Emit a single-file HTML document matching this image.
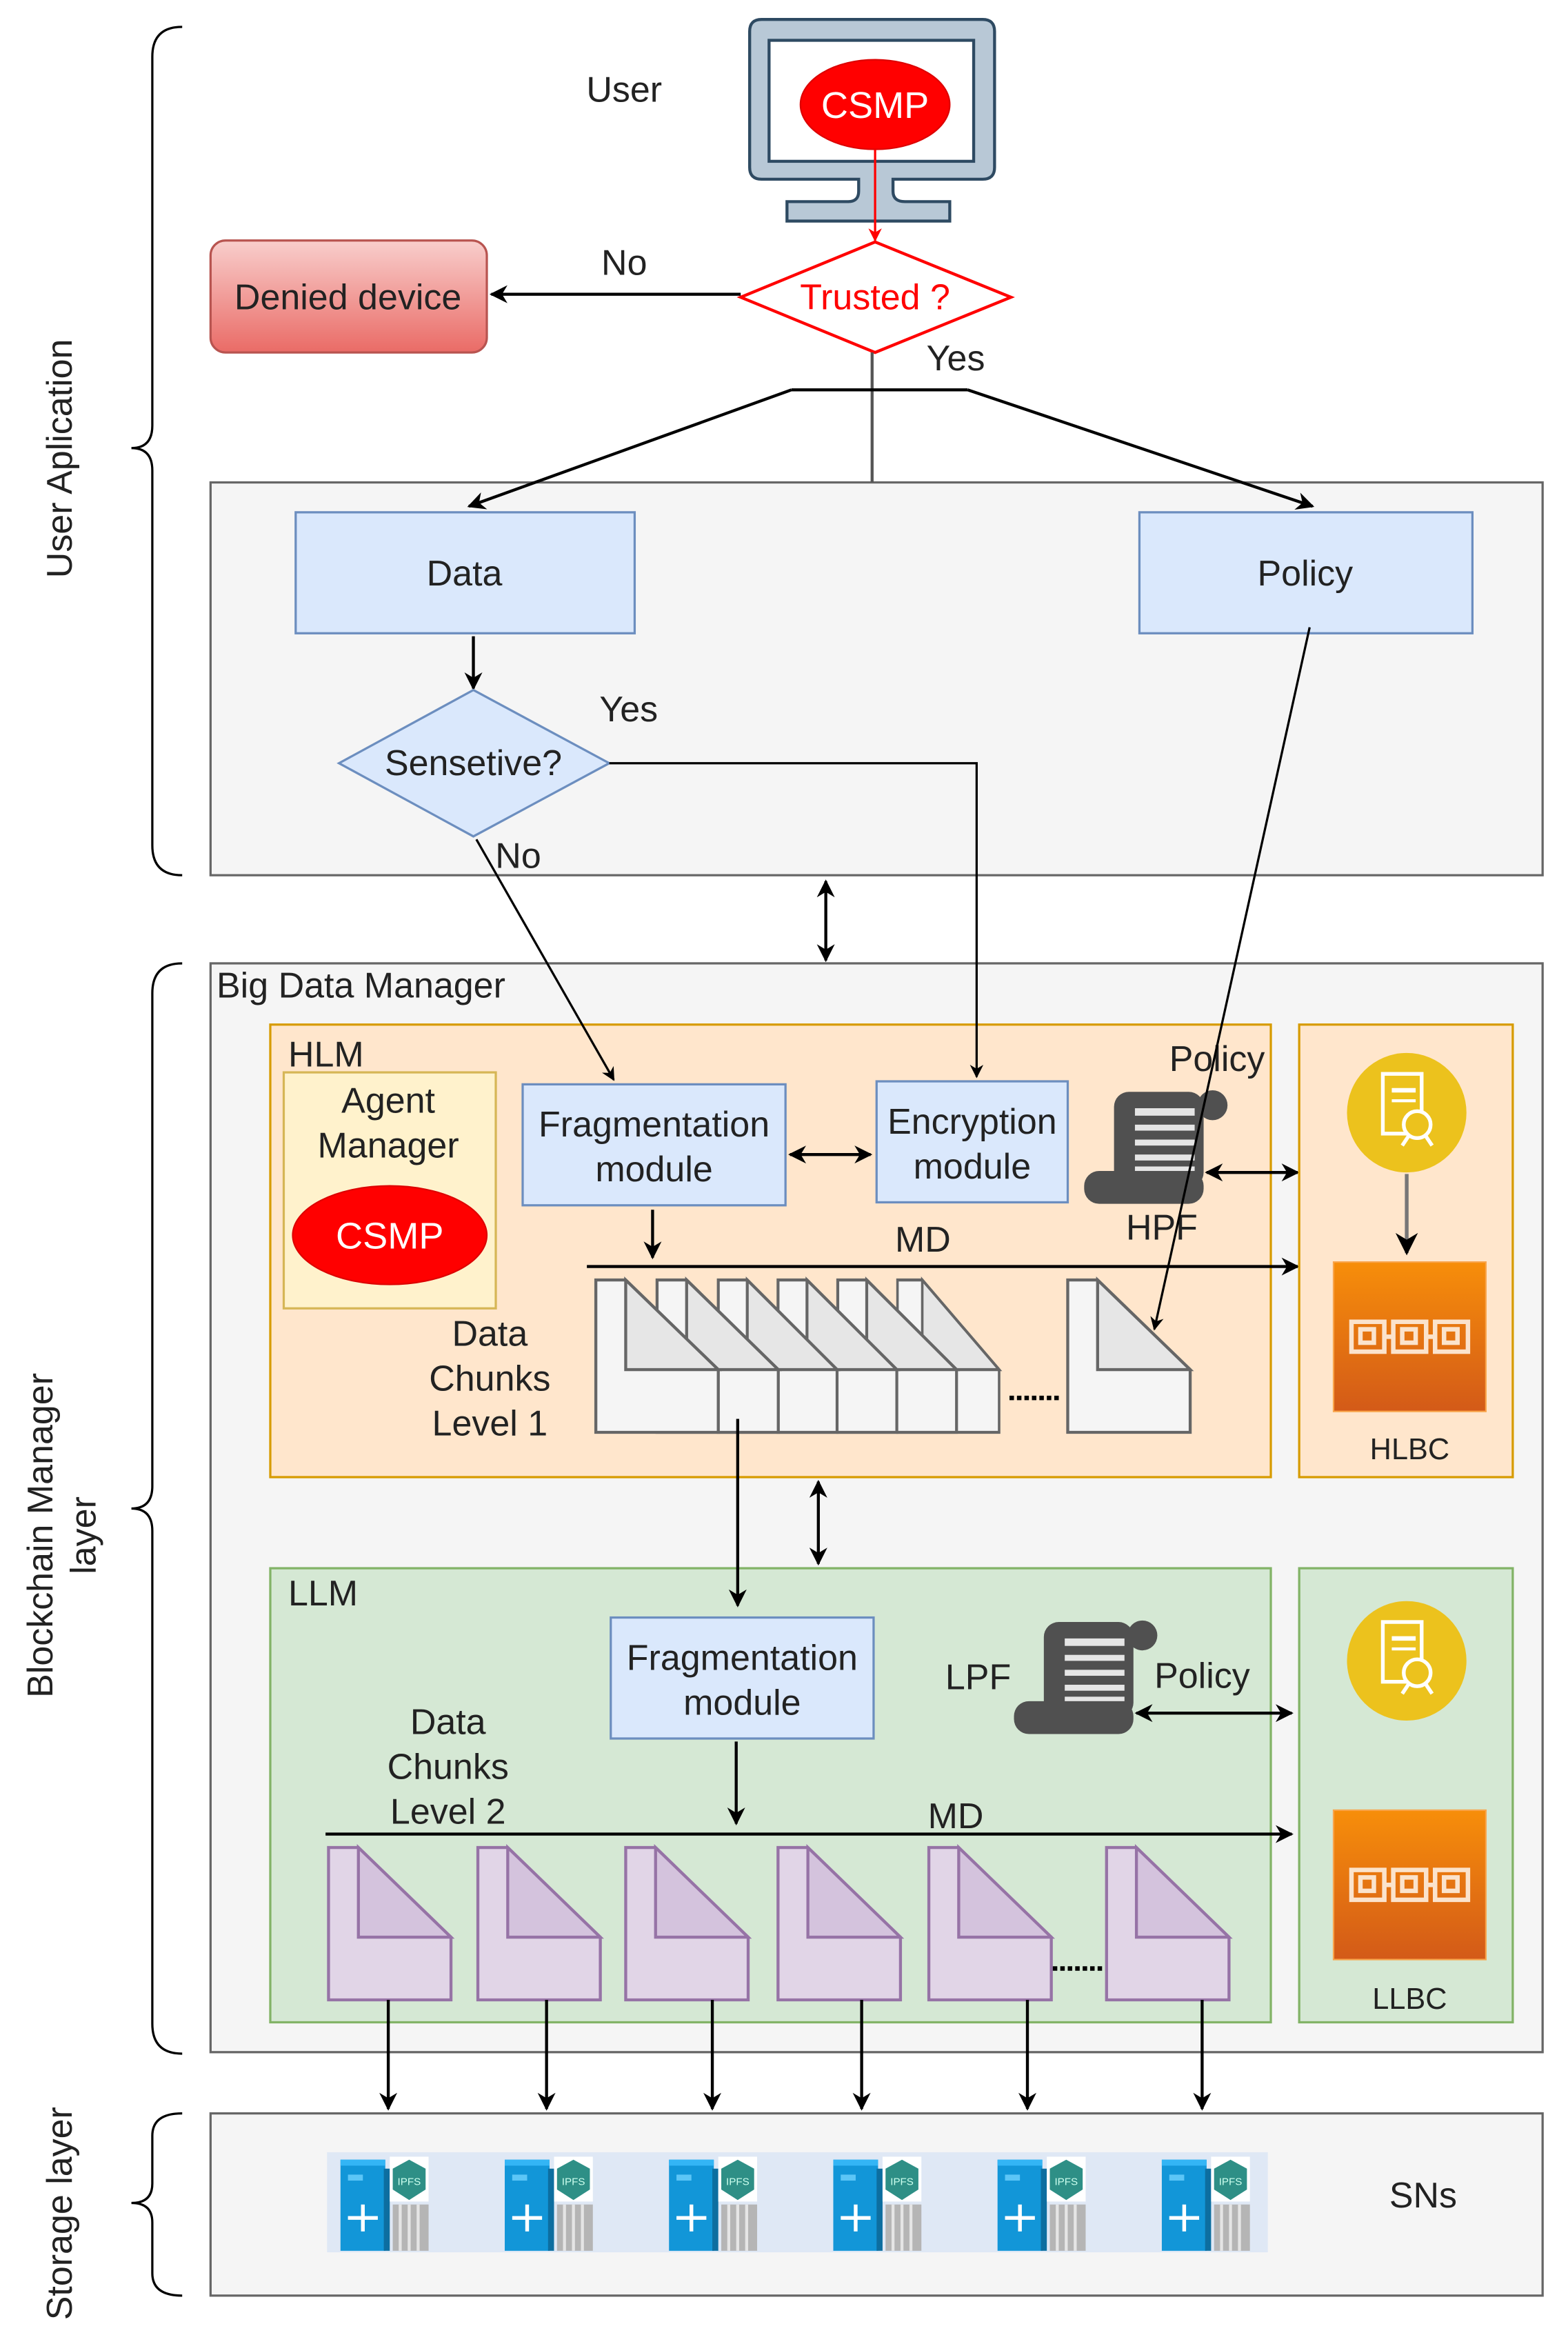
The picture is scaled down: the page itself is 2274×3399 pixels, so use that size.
<!DOCTYPE html>
<html><head><meta charset="utf-8"><style>
html,body{margin:0;padding:0;background:#fff}
svg{display:block}
text{font-family:"Liberation Sans Narrow","Liberation Sans",sans-serif;fill:#222}
</style></head><body>
<svg width="2274" height="3399" viewBox="0 0 1050 1569.4" preserveAspectRatio="none" xmlns="http://www.w3.org/2000/svg">
<defs>
<marker id="a" viewBox="0 0 10 10" refX="9" refY="5" markerWidth="6" markerHeight="6" orient="auto-start-reverse"><path d="M0,0 L10,5 L0,10 L3,5 Z" fill="#000"/></marker>
<marker id="ar" viewBox="0 0 10 10" refX="9" refY="5" markerWidth="6" markerHeight="6" orient="auto"><path d="M0,0 L10,5 L0,10 L3,5 Z" fill="#f00"/></marker>
<linearGradient id="gr" x1="0" y1="0" x2="0" y2="1"><stop offset="0" stop-color="#f8cecc"/><stop offset="1" stop-color="#ea6b66"/></linearGradient>
<linearGradient id="go" x1="0" y1="0" x2="0" y2="1"><stop offset="0" stop-color="#f78e0a"/><stop offset="1" stop-color="#d35a18"/></linearGradient>
<g id="card"><path d="M0,0 H20 L82,60 V102 H0 Z" fill="#f5f5f5" stroke="#666" stroke-width="2"/><path d="M20,0 L82,60 H20 Z" fill="#e6e6e6" stroke="#666" stroke-width="2"/></g>
<g id="pcard"><path d="M0,0 H20 L82,60 V102 H0 Z" fill="#e1d5e7" stroke="#9673a6" stroke-width="2"/><path d="M20,0 L82,60 H20 Z" fill="#d4c3dd" stroke="#9673a6" stroke-width="2"/></g>
<g id="script">
<rect x="22" y="3" width="60" height="64" rx="10" fill="#505050"/>
<circle cx="88" cy="12" r="10" fill="#505050"/>
<rect x="2" y="56" width="80" height="22" rx="10" fill="#505050"/>
<g fill="#fff" opacity="0.85"><rect x="36" y="14" width="40" height="5"/><rect x="36" y="25" width="40" height="4"/><rect x="36" y="35" width="40" height="4"/><rect x="36" y="45" width="40" height="4"/><rect x="36" y="53" width="40" height="3"/></g>
</g>
<g id="cert"><circle cx="0" cy="0" r="40" fill="#ecc21d"/>
<rect x="-16" y="-26" width="26" height="40" fill="none" stroke="#fff" stroke-width="2.5"/>
<line x1="-10" y1="-15" x2="6" y2="-15" stroke="#fff" stroke-width="3"/><line x1="-10" y1="-8" x2="6" y2="-8" stroke="#fff" stroke-width="2"/>
<circle cx="7" cy="8" r="9" fill="#ecc21d" stroke="#fff" stroke-width="2.5"/><path d="M1,16 L-3,22 M13,16 L17,22" stroke="#fff" stroke-width="2.5"/></g>
<g id="chain"><rect x="0" y="0" width="102" height="100" fill="url(#go)" stroke="#f9a44a"/>
<g fill="none" stroke="#fbe3cc" stroke-width="3"><rect x="12" y="40" width="22" height="20"/><rect x="40" y="40" width="22" height="20"/><rect x="68" y="40" width="22" height="20"/><rect x="18" y="45" width="9" height="9"/><rect x="46" y="45" width="9" height="9"/><rect x="74" y="45" width="9" height="9"/><path d="M34,50 H40 M62,50 H68"/></g></g>
<g id="srv"><rect x="0" y="4" width="30" height="61" fill="#1296d8"/><rect x="0" y="4" width="30" height="4" fill="#33b5f5"/><rect x="5" y="14" width="10" height="4" fill="#5cc6f7"/><rect x="29" y="10" width="4" height="55" fill="#0d6ea0"/>
<path d="M15,34 V52 M5,43 H25" stroke="#fff" stroke-width="2.5"/>
<rect x="33" y="2" width="26" height="30" fill="#fff"/><polygon points="46,4 57,10 57,24 46,31 35,24 35,10" fill="#2e8f86"/><text x="46" y="21" font-size="7" text-anchor="middle" style="fill:#cfe">IPFS</text>
<rect x="35" y="34" width="24" height="31" fill="#b5b5b5"/><path d="M40,34 V65 M46,34 V65 M52,34 V65" stroke="#e5e5e5" stroke-width="2"/></g>
</defs>

<!-- braces -->
<g fill="none" stroke="#000" stroke-width="1.5">
<path d="M122,18 Q102,18 102,38 V285 Q102,300 88,300 Q102,300 102,315 V566 Q102,586 122,586"/>
<path d="M122,645 Q102,645 102,665 V995 Q102,1010 88,1010 Q102,1010 102,1025 V1355 Q102,1375 122,1375"/>
<path d="M122,1415 Q102,1415 102,1430 V1462 Q102,1475 88,1475 Q102,1475 102,1488 V1522 Q102,1537 122,1537"/>
</g>
<text transform="translate(48,307) rotate(-90)" font-size="24" text-anchor="middle">User Aplication</text>
<text transform="translate(35,1028) rotate(-90)" font-size="24" text-anchor="middle">Blockchain Manager</text>
<text transform="translate(64,1028) rotate(-90)" font-size="24" text-anchor="middle">layer</text>
<text transform="translate(48,1482) rotate(-90)" font-size="24" text-anchor="middle">Storage layer</text>

<!-- user area -->
<text x="418" y="68" font-size="24" text-anchor="middle">User</text>
<path d="M510,13 H658 Q666,13 666,21 V112 Q666,120 658,120 H598 V128 Q598,135 606,135 H636 V148 H527 V135 H568 Q575,135 575,128 V120 H510 Q502,120 502,112 V21 Q502,13 510,13 Z" fill="#b8c8d6" stroke="#2e4a62" stroke-width="2"/>
<rect x="515" y="27" width="137" height="81" fill="#fff" stroke="#2e4a62" stroke-width="2"/>
<ellipse cx="586" cy="70" rx="50" ry="30" fill="#f00" stroke="#d00"/>
<text x="586" y="79" font-size="25" text-anchor="middle" style="fill:#fff">CSMP</text>
<line x1="586" y1="100" x2="586" y2="161" stroke="#f00" stroke-width="1.5" marker-end="url(#ar)"/>
<polygon points="586,162 677,199 586,236 496,199" fill="#fff" stroke="#f00" stroke-width="2"/>
<text x="586" y="207" font-size="24" text-anchor="middle" style="fill:#f00">Trusted ?</text>
<rect x="141" y="161" width="185" height="75" rx="10" fill="url(#gr)" stroke="#b85450" stroke-width="1.5"/>
<text x="233" y="207" font-size="24" text-anchor="middle">Denied device</text>
<line x1="496" y1="197" x2="329" y2="197" stroke="#000" stroke-width="2" marker-end="url(#a)"/>
<text x="418" y="184" font-size="24" text-anchor="middle">No</text>
<text x="640" y="248" font-size="24" text-anchor="middle">Yes</text>

<rect x="141" y="323" width="892" height="263" fill="#f5f5f5" stroke="#666" stroke-width="1.5"/>
<line x1="584" y1="236" x2="584" y2="323" stroke="#555" stroke-width="2"/>
<line x1="530" y1="261" x2="648" y2="261" stroke="#000" stroke-width="2"/>
<line x1="530" y1="261" x2="314" y2="339" stroke="#000" stroke-width="2" marker-end="url(#a)"/>
<line x1="648" y1="261" x2="879" y2="339" stroke="#000" stroke-width="2" marker-end="url(#a)"/>
<rect x="198" y="343" width="227" height="81" fill="#dae8fc" stroke="#6c8ebf" stroke-width="1.5"/>
<text x="311" y="392" font-size="24" text-anchor="middle">Data</text>
<rect x="763" y="343" width="223" height="81" fill="#dae8fc" stroke="#6c8ebf" stroke-width="1.5"/>
<text x="874" y="392" font-size="24" text-anchor="middle">Policy</text>
<line x1="317" y1="426" x2="317" y2="461" stroke="#000" stroke-width="2" marker-end="url(#a)"/>
<polygon points="317,462 408,511 317,560 227,511" fill="#dae8fc" stroke="#6c8ebf" stroke-width="1.5"/>
<text x="317" y="519" font-size="24" text-anchor="middle">Sensetive?</text>
<text x="421" y="483" font-size="24" text-anchor="middle">Yes</text>
<text x="347" y="581" font-size="24" text-anchor="middle">No</text>
<line x1="553" y1="590" x2="553" y2="643" stroke="#000" stroke-width="2" marker-start="url(#a)" marker-end="url(#a)"/>

<!-- Big data manager -->
<rect x="141" y="645" width="892" height="729" fill="#f5f5f5" stroke="#666" stroke-width="1.5"/>
<text x="145" y="668" font-size="24">Big Data Manager</text>
<rect x="181" y="686" width="670" height="303" fill="#ffe6cc" stroke="#d79b00" stroke-width="1.5"/>
<text x="193" y="714" font-size="24">HLM</text>
<rect x="190" y="718" width="142" height="158" fill="#fff2cc" stroke="#d6b656" stroke-width="1.5"/>
<text x="260" y="745" font-size="24" text-anchor="middle">Agent</text>
<text x="260" y="775" font-size="24" text-anchor="middle">Manager</text>
<ellipse cx="261" cy="827" rx="65" ry="33" fill="#f00" stroke="#d00"/>
<text x="261" y="836" font-size="25" text-anchor="middle" style="fill:#fff">CSMP</text>
<rect x="350" y="726" width="176" height="81" fill="#dae8fc" stroke="#6c8ebf" stroke-width="1.5"/>
<text x="438" y="761" font-size="24" text-anchor="middle">Fragmentation</text>
<text x="438" y="791" font-size="24" text-anchor="middle">module</text>
<rect x="587" y="724" width="128" height="81" fill="#dae8fc" stroke="#6c8ebf" stroke-width="1.5"/>
<text x="651" y="759" font-size="24" text-anchor="middle">Encryption</text>
<text x="651" y="789" font-size="24" text-anchor="middle">module</text>
<line x1="529" y1="773" x2="583" y2="773" stroke="#000" stroke-width="2" marker-start="url(#a)" marker-end="url(#a)"/>
<use href="#script" x="724" y="728"/>
<text x="778" y="830" font-size="24" text-anchor="middle">HPF</text>
<text x="815" y="717" font-size="24" text-anchor="middle">Policy</text>
<line x1="808" y1="785" x2="869" y2="785" stroke="#000" stroke-width="2" marker-start="url(#a)" marker-end="url(#a)"/>
<line x1="437" y1="810" x2="437" y2="842" stroke="#000" stroke-width="2" marker-end="url(#a)"/>
<line x1="393" y1="848" x2="869" y2="848" stroke="#000" stroke-width="2" marker-end="url(#a)"/>
<text x="618" y="838" font-size="24" text-anchor="middle">MD</text>
<text x="328" y="901" font-size="24" text-anchor="middle">Data</text>
<text x="328" y="931" font-size="24" text-anchor="middle">Chunks</text>
<text x="328" y="961" font-size="24" text-anchor="middle">Level 1</text>
<use href="#card" transform="translate(601,857) scale(0.83,1)"/>
<use href="#card" transform="translate(561,857) scale(0.97,1)"/>
<use href="#card" transform="translate(521,857) scale(0.97,1)"/>
<use href="#card" transform="translate(481,857) scale(0.97,1)"/>
<use href="#card" transform="translate(440,857) scale(0.99,1)"/>
<use href="#card" transform="translate(399,857)"/>
<line x1="676" y1="936" x2="710" y2="936" stroke="#000" stroke-width="3" stroke-dasharray="3,2"/>
<use href="#card" x="715" y="857"/>
<line x1="548" y1="992" x2="548" y2="1047" stroke="#000" stroke-width="2" marker-start="url(#a)" marker-end="url(#a)"/>

<rect x="870" y="686" width="143" height="303" fill="#ffe6cc" stroke="#d79b00" stroke-width="1.5"/>
<use href="#cert" x="942" y="745"/>
<line x1="942" y1="786" x2="942" y2="839" stroke="#777" stroke-width="2.5" marker-end="url(#a)"/>
<use href="#chain" x="893" y="845"/>
<text x="944" y="977" font-size="20" text-anchor="middle">HLBC</text>

<!-- LLM -->
<rect x="181" y="1050" width="670" height="304" fill="#d5e8d4" stroke="#82b366" stroke-width="1.5"/>
<text x="193" y="1075" font-size="24">LLM</text>
<rect x="409" y="1083" width="176" height="81" fill="#dae8fc" stroke="#6c8ebf" stroke-width="1.5"/>
<text x="497" y="1118" font-size="24" text-anchor="middle">Fragmentation</text>
<text x="497" y="1148" font-size="24" text-anchor="middle">module</text>
<line x1="493" y1="1166" x2="493" y2="1221" stroke="#000" stroke-width="2" marker-end="url(#a)"/>
<use href="#script" x="677" y="1083"/>
<text x="655" y="1131" font-size="24" text-anchor="middle">LPF</text>
<text x="805" y="1130" font-size="24" text-anchor="middle">Policy</text>
<line x1="761" y1="1147" x2="865" y2="1147" stroke="#000" stroke-width="2" marker-start="url(#a)" marker-end="url(#a)"/>
<text x="300" y="1161" font-size="24" text-anchor="middle">Data</text>
<text x="300" y="1191" font-size="24" text-anchor="middle">Chunks</text>
<text x="300" y="1221" font-size="24" text-anchor="middle">Level 2</text>
<line x1="218" y1="1228" x2="865" y2="1228" stroke="#000" stroke-width="2" marker-end="url(#a)"/>
<text x="640" y="1224" font-size="24" text-anchor="middle">MD</text>
<use href="#pcard" x="220" y="1237"/>
<use href="#pcard" x="320" y="1237"/>
<use href="#pcard" x="419" y="1237"/>
<use href="#pcard" x="521" y="1237"/>
<use href="#pcard" x="622" y="1237"/>
<use href="#pcard" x="741" y="1237"/>
<line x1="705" y1="1318" x2="739" y2="1318" stroke="#000" stroke-width="3" stroke-dasharray="3,2"/>
<rect x="870" y="1050" width="143" height="304" fill="#d5e8d4" stroke="#82b366" stroke-width="1.5"/>
<use href="#cert" x="942" y="1112"/>
<use href="#chain" x="893" y="1212"/>
<text x="944" y="1345" font-size="20" text-anchor="middle">LLBC</text>

<g stroke="#000" stroke-width="2">
<line x1="260" y1="1339" x2="260" y2="1412" marker-end="url(#a)"/>
<line x1="366" y1="1339" x2="366" y2="1412" marker-end="url(#a)"/>
<line x1="477" y1="1339" x2="477" y2="1412" marker-end="url(#a)"/>
<line x1="577" y1="1339" x2="577" y2="1412" marker-end="url(#a)"/>
<line x1="688" y1="1339" x2="688" y2="1412" marker-end="url(#a)"/>
<line x1="805" y1="1339" x2="805" y2="1412" marker-end="url(#a)"/>
</g>

<!-- cross-container connectors (on top) -->
<polyline points="408,511 654,511 654,721" fill="none" stroke="#000" stroke-width="1.5" marker-end="url(#a)"/>
<line x1="319" y1="562" x2="411" y2="723" stroke="#000" stroke-width="1.5" marker-end="url(#a)"/>
<line x1="877" y1="420" x2="773" y2="890" stroke="#000" stroke-width="1.5" marker-end="url(#a)"/>
<line x1="494" y1="950" x2="494" y2="1075" stroke="#000" stroke-width="2" marker-end="url(#a)"/>

<!-- storage -->
<rect x="141" y="1415" width="892" height="122" fill="#f5f5f5" stroke="#666" stroke-width="1.5"/>
<rect x="219" y="1441" width="630" height="67" fill="#dfe8f5"/>
<use href="#srv" x="228" y="1442"/>
<use href="#srv" x="338" y="1442"/>
<use href="#srv" x="448" y="1442"/>
<use href="#srv" x="558" y="1442"/>
<use href="#srv" x="668" y="1442"/>
<use href="#srv" x="778" y="1442"/>
<text x="953" y="1478" font-size="24" text-anchor="middle">SNs</text>
</svg>
</body></html>
